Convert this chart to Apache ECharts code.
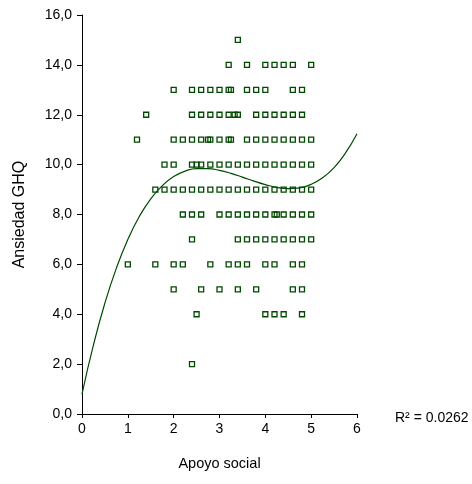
<!DOCTYPE html>
<html>
<head>
<meta charset="utf-8">
<script src="https://cdn.jsdelivr.net/npm/echarts@6/dist/echarts.min.js"></script>
<style>
  html, body { margin: 0; padding: 0; background: #fff; }
  #chart { width: 472px; height: 484px; }
</style>
</head>
<body>
<div id="chart"></div>
<script>
// Apoyo social values for each Ansiedad GHQ level
const x15 = [3.4];
const x14 = [3.2, 3.6, 4.0, 4.2, 4.4, 4.6, 5.0];
const x13 = [2.0, 2.4, 2.6, 2.8, 3.0, 3.2, 3.25, 3.6, 3.8, 4.0, 4.6, 4.8];
const x12 = [1.4, 2.4, 2.6, 2.8, 3.0, 3.2, 3.33, 3.4, 3.8, 4.0, 4.2, 4.4, 4.6, 4.8];
const x11 = [1.2, 2.0, 2.2, 2.4, 2.6, 2.75, 2.8, 3.0, 3.2, 3.25, 3.6, 3.8, 4.0, 4.2, 4.4, 4.6, 4.8, 5.0];
const x10 = [1.8, 2.0, 2.4, 2.5, 2.6, 2.8, 3.0, 3.2, 3.4, 3.6, 3.8, 4.0, 4.2, 4.4, 4.6, 4.8, 5.0];
const x9 = [1.6, 1.8, 2.0, 2.2, 2.4, 2.6, 2.8, 3.0, 3.2, 3.4, 3.6, 3.8, 4.0, 4.2, 4.4, 4.6, 4.8, 5.0];
const x8 = [2.2, 2.4, 2.6, 3.0, 3.2, 3.4, 3.6, 3.8, 4.0, 4.2, 4.25, 4.4, 4.6, 4.8, 5.0];
const x7 = [2.4, 3.4, 3.6, 3.8, 4.0, 4.2, 4.4, 4.6, 4.8, 5.0];
const x6 = [1.0, 1.6, 2.0, 2.2, 2.8, 3.2, 3.4, 3.6, 4.0, 4.2, 4.6, 4.8];
const x5 = [2.0, 2.6, 3.0, 3.4, 3.8, 4.6, 4.8];
const x4 = [2.5, 4.0, 4.2, 4.4, 4.8];
const x2 = [2.4];

const levels = [15, 14, 13, 12, 11, 10, 9, 8, 7, 6, 5, 4, 2];
const rows = [x15, x14, x13, x12, x11, x10, x9, x8, x7, x6, x5, x4, x2];

// trend line (polynomial, order 3)
const trendX = [0, 0.25, 0.5, 0.75, 1, 1.25, 1.5, 1.75, 2, 2.25, 2.5, 2.75, 3,
  3.25, 3.5, 3.75, 4, 4.25, 4.5, 4.75, 5, 5.25, 5.5, 5.75, 6];
const trendY = [0.80, 2.77, 4.45, 5.85, 7.00, 7.92, 8.63, 9.15, 9.52, 9.74, 9.84, 9.84, 9.77,
  9.65, 9.50, 9.34, 9.20, 9.09, 9.04, 9.07, 9.21, 9.47, 9.88, 10.47, 11.24];

const yTicks = [0, 2, 4, 6, 8, 10, 12, 14, 16];
const xTicks = [0, 1, 2, 3, 4, 5, 6];

const green = '#004a00';
const font = 'Liberation Sans, Arial, sans-serif';

const points = [];
rows.forEach((xs, i) => {
  xs.forEach(x => points.push([x, levels[i]]));
});

const chart = echarts.init(document.getElementById('chart'), null, { renderer: 'canvas' });

const option = {
  animation: false,
  backgroundColor: '#fff',
  grid: { left: 82, right: 115, top: 15, bottom: 70, containLabel: false },
  xAxis: {
    type: 'value',
    min: xTicks[0],
    max: xTicks[xTicks.length - 1],
    interval: 1,
    name: 'Apoyo social',
    nameLocation: 'middle',
    nameGap: 42,
    nameTextStyle: { color: '#000', fontFamily: font, fontSize: 14.5 },
    axisLine: { lineStyle: { color: '#000', width: 1 } },
    axisTick: { length: 4, lineStyle: { color: '#000' } },
    axisLabel: { color: '#000', fontFamily: font, fontSize: 14, margin: 8 },
    splitLine: { show: false },
  },
  yAxis: {
    type: 'value',
    min: yTicks[0],
    max: yTicks[yTicks.length - 1],
    interval: 2,
    name: 'Ansiedad GHQ',
    nameLocation: 'middle',
    nameGap: 54,
    nameRotate: 90,
    nameTextStyle: { color: '#000', fontFamily: font, fontSize: 16 },
    axisLine: { show: true, lineStyle: { color: '#000', width: 1 } },
    axisTick: { show: true, length: 5, lineStyle: { color: '#000' } },
    axisLabel: {
      color: '#000', fontFamily: font, fontSize: 14, margin: 10,
      formatter: v => v.toFixed(1).replace('.', ','),
    },
    splitLine: { show: false },
  },
  series: [
    {
      type: 'scatter',
      data: points,
      symbol: 'rect',
      symbolSize: 5,
      itemStyle: { color: 'rgba(0,0,0,0)', borderColor: green, borderWidth: 1.3, opacity: 1 },
      z: 3,
    },
    {
      type: 'line',
      data: trendX.map((x, i) => [x, trendY[i]]),
      smooth: true,
      showSymbol: false,
      lineStyle: { color: green, width: 1.2 },
      z: 2,
    },
  ],
  graphic: [
    {
      type: 'text',
      left: 395,
      top: 411,
      style: { text: 'R² = 0.0262', fill: '#000', font: '14px ' + font },
    },
  ],
};

chart.setOption(option);
</script>
</body>
</html>
